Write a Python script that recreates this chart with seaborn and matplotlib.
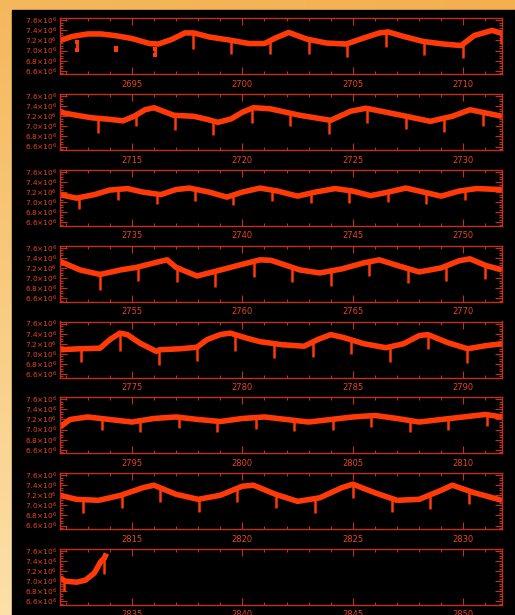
import numpy as np
import pandas as pd
import matplotlib
matplotlib.use('Agg')
import matplotlib.pyplot as plt
import seaborn as sns
from matplotlib.ticker import MultipleLocator, FuncFormatter
from matplotlib.patches import Rectangle

# panel start times (days), each panel spans 20 days
panel_start = [2691.75, 2711.75, 2731.75, 2751.75, 2771.75, 2791.75, 2811.75, 2831.75]

# smooth light curve, flux in units of 1e6
p1_t = [2691.75, 2692.3, 2693.0, 2693.6, 2694.2, 2695.0, 2695.8, 2696.2, 2696.8, 2697.4, 2697.8,
        2698.5, 2699.4, 2700.3, 2701.0, 2701.5, 2702.1, 2702.9, 2703.8, 2704.7, 2705.5, 2706.2,
        2706.6, 2707.3, 2708.2, 2709.1, 2709.9, 2710.5, 2711.3, 2711.75]
p1_f = [7.20, 7.28, 7.33, 7.33, 7.30, 7.24, 7.14, 7.13, 7.22, 7.35, 7.35,
        7.27, 7.21, 7.14, 7.14, 7.25, 7.36, 7.23, 7.15, 7.13, 7.25, 7.35,
        7.37, 7.28, 7.18, 7.13, 7.10, 7.30, 7.40, 7.34]
p2_t = [2711.75, 2712.5, 2713.2, 2714.0, 2714.6, 2715.1, 2715.6, 2716.0, 2716.9, 2717.8, 2718.4,
        2718.9, 2719.5, 2720.0, 2720.5, 2721.25, 2722.6, 2724.0, 2724.9, 2725.6, 2727.2, 2728.5,
        2729.5, 2730.3, 2731.2, 2731.75]
p2_f = [7.28, 7.22, 7.17, 7.14, 7.11, 7.20, 7.33, 7.37, 7.22, 7.20, 7.14,
        7.08, 7.15, 7.28, 7.37, 7.35, 7.22, 7.12, 7.30, 7.36, 7.22, 7.10,
        7.20, 7.33, 7.25, 7.20]
p3_t = [2731.75, 2732.5, 2733.3, 2734.0, 2734.8, 2735.5, 2736.3, 2737.0, 2737.6, 2738.5, 2739.3,
        2740.0, 2740.8, 2741.6, 2742.5, 2743.3, 2744.2, 2745.0, 2745.8, 2746.6, 2747.4, 2748.2,
        2749.0, 2749.8, 2750.6, 2751.75]
p3_f = [7.15, 7.08, 7.15, 7.24, 7.27, 7.20, 7.15, 7.25, 7.28, 7.20, 7.10,
        7.20, 7.28, 7.22, 7.12, 7.20, 7.27, 7.22, 7.13, 7.20, 7.28, 7.20,
        7.12, 7.22, 7.27, 7.25]
p4_t = [2751.75, 2752.65, 2753.56, 2754.5, 2755.2, 2756.3, 2756.6, 2757.0, 2757.95, 2758.85, 2759.9,
        2760.8, 2761.3, 2762.6, 2763.5, 2764.5, 2765.5, 2766.2, 2767.0, 2768.0, 2769.0, 2769.8,
        2770.3, 2771.0, 2771.75]
p4_f = [7.33, 7.16, 7.07, 7.16, 7.21, 7.33, 7.36, 7.21, 7.04, 7.14, 7.26,
        7.36, 7.35, 7.16, 7.10, 7.18, 7.30, 7.36, 7.25, 7.12, 7.20, 7.34,
        7.38, 7.25, 7.16]
p5_t = [2771.75, 2772.65, 2773.56, 2774.0, 2774.46, 2774.8, 2775.37, 2776.1, 2776.27, 2777.2, 2777.95,
        2778.4, 2779.0, 2779.45, 2780.2, 2780.8, 2781.8, 2782.8, 2783.4, 2784.0, 2784.6, 2785.5,
        2786.5, 2787.3, 2788.0, 2788.4, 2789.3, 2790.2, 2791.0, 2791.75]
p5_f = [7.08, 7.10, 7.11, 7.28, 7.41, 7.38, 7.21, 7.05, 7.08, 7.10, 7.13,
        7.28, 7.38, 7.41, 7.31, 7.24, 7.18, 7.15, 7.28, 7.38, 7.32, 7.20,
        7.12, 7.20, 7.36, 7.38, 7.22, 7.10, 7.16, 7.20]
p6_t = [2791.75, 2792.2, 2793.0, 2794.0, 2795.0, 2796.0, 2797.0, 2798.0, 2799.0, 2800.0, 2801.0,
        2802.0, 2803.0, 2804.0, 2805.0, 2806.0, 2807.0, 2808.0, 2809.0, 2810.0, 2811.0, 2811.75]
p6_f = [7.05, 7.20, 7.25, 7.20, 7.15, 7.22, 7.25, 7.20, 7.16, 7.22, 7.25,
        7.20, 7.15, 7.20, 7.25, 7.28, 7.22, 7.15, 7.20, 7.25, 7.30, 7.25]
p7_t = [2811.75, 2812.5, 2813.5, 2814.5, 2815.5, 2816.0, 2817.0, 2818.0, 2819.0, 2820.0, 2820.5,
        2821.5, 2822.5, 2823.5, 2824.5, 2825.0, 2826.0, 2827.0, 2828.0, 2829.0, 2829.5, 2830.5,
        2831.75]
p7_f = [7.20, 7.12, 7.10, 7.20, 7.35, 7.40, 7.22, 7.12, 7.20, 7.38, 7.40,
        7.22, 7.08, 7.15, 7.35, 7.42, 7.25, 7.10, 7.12, 7.30, 7.40, 7.25,
        7.10]
p8_t = [2831.75, 2832.0, 2832.5, 2832.9, 2833.3, 2833.6, 2833.75, 2833.85]
p8_f = [7.06, 7.00, 6.98, 7.02, 7.16, 7.39, 7.45, 7.55]

# eclipse times (days) and depths (1e6)
d1_t = [2697.77, 2699.51, 2701.26, 2703.00, 2704.74, 2706.49, 2708.23, 2709.97, 2711.70]
d1_d = [0.32, 0.26, 0.27, 0.28, 0.27, 0.30, 0.27, 0.27, 0.22]
d2_t = [2713.46, 2715.20, 2716.94, 2718.69, 2720.43, 2722.17, 2723.92, 2725.66, 2727.40, 2729.14, 2730.89]
d2_d = [0.30, 0.22, 0.30, 0.28, 0.30, 0.26, 0.28, 0.28, 0.26, 0.28, 0.26]
d3_t = [2732.63, 2734.37, 2736.12, 2737.86, 2739.60, 2741.35, 2743.09, 2744.83, 2746.57, 2748.32, 2750.06]
d3_d = [0.22, 0.22, 0.20, 0.24, 0.20, 0.22, 0.20, 0.24, 0.20, 0.22, 0.20]
d4_t = [2753.55, 2755.29, 2757.03, 2758.78, 2760.52, 2762.26, 2764.00, 2765.75, 2767.49, 2769.23, 2770.98]
d4_d = [0.30, 0.28, 0.28, 0.32, 0.30, 0.28, 0.30, 0.28, 0.28, 0.30, 0.28]
d5_t = [2772.72, 2774.46, 2776.21, 2777.95, 2779.69, 2781.43, 2783.18, 2784.92, 2786.66, 2788.41, 2790.15]
d5_d = [0.26, 0.36, 0.30, 0.28, 0.33, 0.28, 0.30, 0.28, 0.30, 0.28, 0.28]
d6_t = [2793.64, 2795.38, 2797.12, 2798.86, 2800.61, 2802.35, 2804.09, 2805.84, 2807.58, 2809.32, 2811.07]
d6_d = [0.22, 0.22, 0.22, 0.22, 0.22, 0.22, 0.22, 0.22, 0.22, 0.22, 0.22]
d7_t = [2812.81, 2814.55, 2816.29, 2818.04, 2819.78, 2821.52, 2823.27, 2825.01, 2826.75, 2828.50, 2830.24]
d7_d = [0.26, 0.26, 0.28, 0.26, 0.28, 0.26, 0.28, 0.28, 0.26, 0.28, 0.26]
d8_t = [2831.95, 2833.72]
d8_d = [0.20, 0.30]

# detached points in the first panel
stray_t = [2692.54, 2692.54, 2694.28, 2694.28, 2696.03, 2696.03]
stray_f = [7.17, 7.01, 7.06, 7.02, 7.03, 6.91]

curves = [(p1_t, p1_f), (p2_t, p2_f), (p3_t, p3_f), (p4_t, p4_f),
          (p5_t, p5_f), (p6_t, p6_f), (p7_t, p7_f), (p8_t, p8_f)]
dips = [(d1_t, d1_d), (d2_t, d2_d), (d3_t, d3_d), (d4_t, d4_d),
        (d5_t, d5_d), (d6_t, d6_d), (d7_t, d7_d), (d8_t, d8_d)]

line_col = '#ff3a08'
axis_col = '#c0301c'
text_col = '#e4461e'

sns.set_theme(style='ticks')
plt.rcParams['font.family'] = ['DejaVu Sans']

W, H = 515, 615
fig = plt.figure(figsize=(W / 100, H / 100), dpi=100)

# orange backdrop and black plotting board
bg = fig.add_axes([0, 0, 1, 1], zorder=-10)
gy = np.linspace(0, 1, 64)[:, None]
gx = np.linspace(0, 1, 64)[None, :]
r = 0.96 + 0.03 * gy + 0 * gx
g = 0.72 + 0.16 * gy - 0.03 * gx
b = 0.36 + 0.30 * gy - 0.05 * gx
bg.imshow(np.dstack([r, g, b]).clip(0, 1), aspect='auto', extent=[0, 1, 0, 1], origin='upper')
bg.add_patch(Rectangle((12 / W, 0), 1, 1 - 10 / H, color='black'))
bg.set_xlim(0, 1)
bg.set_ylim(0, 1)
bg.axis('off')

left, right = 60, 502
top0, pitch, ph = 18.3, 75.8, 56

for i, ((t, f), (dt, dd)) in enumerate(zip(curves, dips)):
    top = top0 + i * pitch
    ax = fig.add_axes([left / W, 1 - (top + ph) / H, (right - left) / W, ph / H])
    ax.set_facecolor('black')
    df = pd.DataFrame({'t': t, 'flux': f})
    sns.lineplot(data=df, x='t', y='flux', ax=ax, color=line_col, linewidth=4.0,
                 estimator=None, sort=False, solid_capstyle='butt')
    base = np.interp(dt, t, f)
    ax.vlines(dt, base - np.array(dd), base, color=line_col, linewidth=1.8)
    if i == 0:
        ax.vlines(stray_t[0::2], stray_f[1::2], stray_f[0::2], color=line_col, linewidth=2.0)
        ax.plot(stray_t, stray_f, 's', color=line_col, ms=2.2, mew=0)
    x0 = panel_start[i]
    ax.set_xlim(x0, x0 + 20)
    ax.set_ylim(6.53, 7.64)
    ax.set_xlabel('')
    ax.set_ylabel('')
    ax.xaxis.set_major_locator(MultipleLocator(5))
    ax.xaxis.set_minor_locator(MultipleLocator(1))
    ax.yaxis.set_major_locator(MultipleLocator(0.2))
    ax.yaxis.set_minor_locator(MultipleLocator(0.05))
    ax.yaxis.set_major_formatter(FuncFormatter(lambda v, p: r'$%.1f{\times}10^{6}$' % v))
    ax.xaxis.set_major_formatter(FuncFormatter(lambda v, p: '%d' % round(v)))
    ax.tick_params(which='both', direction='in', top=True, right=True, colors=axis_col,
                   labelcolor=text_col, width=0.8)
    ax.tick_params(which='major', length=5, pad=4)
    ax.tick_params(which='minor', length=2.5)
    ax.tick_params(axis='x', labelsize=6)
    ax.tick_params(axis='y', which='major', pad=2, labelsize=5.3)
    for s in ax.spines.values():
        s.set_color(axis_col)
        s.set_linewidth(1.0)

fig.savefig('out.png', dpi=100, facecolor='black')
